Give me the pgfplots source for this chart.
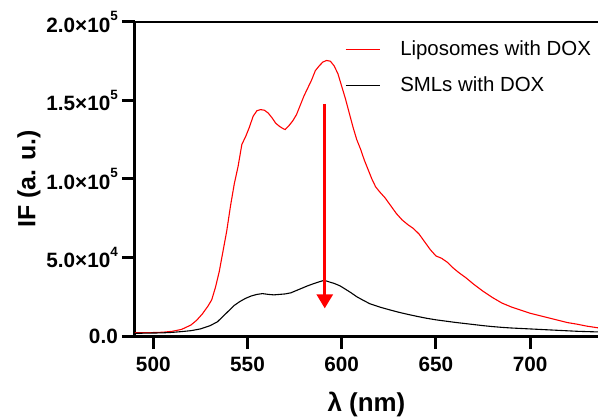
\documentclass[border=0pt]{standalone}
\usepackage{fontspec}
\setmainfont{Liberation Sans}
\usepackage{pgfplots}
\pgfplotsset{compat=1.18}
\usetikzlibrary{arrows.meta}
\newcommand{\sci}[2]{#1×10\raisebox{11.5bp}{\fontsize{13.5}{14}\selectfont\bfseries #2}}

\pgfplotstableread{
x y
490 2200
495 2100
500 2200
505 2400
510 3000
515 4200
520 7000
523 10000
526 14000
529 19000
531 23000
533 31000
535 41000
537 54000
539 67000
541 83000
543 97000
545 108000
547 122000
549 127000
551 133000
553 140000
555 143500
557 144200
559 143800
561 142000
563 139000
565 135500
567 133500
569 132000
570 131500
572 134000
574 137000
576 141000
578 147000
580 153000
582 158000
584 163000
586 169000
588 172000
590 174500
592 175500
594 175000
596 172000
598 167000
600 159000
602 151000
604 142000
606 133000
608 125000
610 119000
612 112000
614 106000
616 100000
618 95000
620 92000
623 88000
626 83000
629 78000
632 74000
635 71000
638 68500
641 65000
644 60000
647 55000
650 51000
653 49500
656 47000
659 43500
662 40500
666 37000
670 33000
675 28500
680 24500
685 21000
690 18500
695 16500
700 14500
705 13000
710 11500
715 10000
720 8500
725 7500
730 6300
736 5200
}\lipo

\pgfplotstableread{
x y
490 1700
495 1800
500 1900
505 2000
510 2300
515 2800
520 3400
525 4500
530 6500
534 9000
537 12500
540 16000
543 19500
546 22000
549 24000
552 25500
555 26500
558 27000
561 26500
564 26200
567 26500
570 26800
573 27500
576 29000
579 30500
582 32000
585 33300
588 34500
590 35200
592 35000
594 34200
596 33500
599 32000
602 29800
605 27500
608 25000
611 23000
615 20500
620 18500
625 16800
630 15200
635 13800
640 12500
645 11300
650 10300
655 9500
660 8700
665 8000
670 7300
675 6600
680 6000
685 5500
690 5100
695 4800
700 4500
705 4200
710 3900
715 3600
720 3300
725 3000
730 2800
736 2600
}\smls

\begin{document}
\begin{tikzpicture}
\path[use as bounding box] (-135bp,-81bp) rectangle (463bp,336bp);
\begin{axis}[
  at={(0,0)}, anchor=south west,
  width=463bp, height=314bp, scale only axis,
  xmin=490.3, xmax=736, ymin=0, ymax=200000,
  axis x line*=bottom, axis y line*=left,
  axis line style={line width=3bp},
  xtick={500,550,600,650,700},
  ytick={0,50000,100000,150000,200000},
  yticklabels={0.0,\sci{5.0}{4},\sci{1.0}{5},\sci{1.5}{5},\sci{2.0}{5}},
  scaled y ticks=false, scaled x ticks=false,
  tick align=outside,
  major tick length=13bp,
  tick style={line width=3bp, black},
  ticklabel style={font=\fontsize{20.8}{24}\selectfont\bfseries},
  /pgf/number format/assume math mode=true,
  xticklabel style={inner sep=0pt, yshift=-8bp},
  yticklabel style={inner sep=0pt, xshift=-4bp},
  xlabel={λ (nm)}, ylabel={IF (a. u.)},
  xlabel style={font=\fontsize{26}{30}\selectfont\bfseries, at={(axis description cs:0.5,-0.178)}, anchor=north, inner sep=0pt},
  ylabel style={font=\fontsize{25}{30}\selectfont\bfseries, at={(axis description cs:-0.229,0.5)}, anchor=center, inner sep=0pt},
  legend style={at={(rel axis cs:0.447,0.947)}, anchor=north west, draw=none, fill=none,
    font=\fontsize{20.5}{24}\selectfont, row sep=17bp, column sep=20bp,
    nodes={inner sep=0pt, text height=15bp, text depth=4bp}},
  legend cell align=left,
  legend image code/.code={\draw[#1] (0bp,1bp) -- (34bp,1bp);},
]
\addplot[red, line width=1.1bp] table[x=x,y=y] {\lipo};
\addlegendentry{Liposomes with DOX}
\addplot[black, line width=1.1bp] table[x=x,y=y] {\smls};
\addlegendentry{SMLs with DOX}
\addplot[red, line width=2.7bp, -{Triangle[width=16bp,length=14bp]}, forget plot] coordinates {(591,147800) (591,17600)};
\draw[line width=2bp] (rel axis cs:0,1) -- (rel axis cs:1,1);
\end{axis}
\end{tikzpicture}
\end{document}
